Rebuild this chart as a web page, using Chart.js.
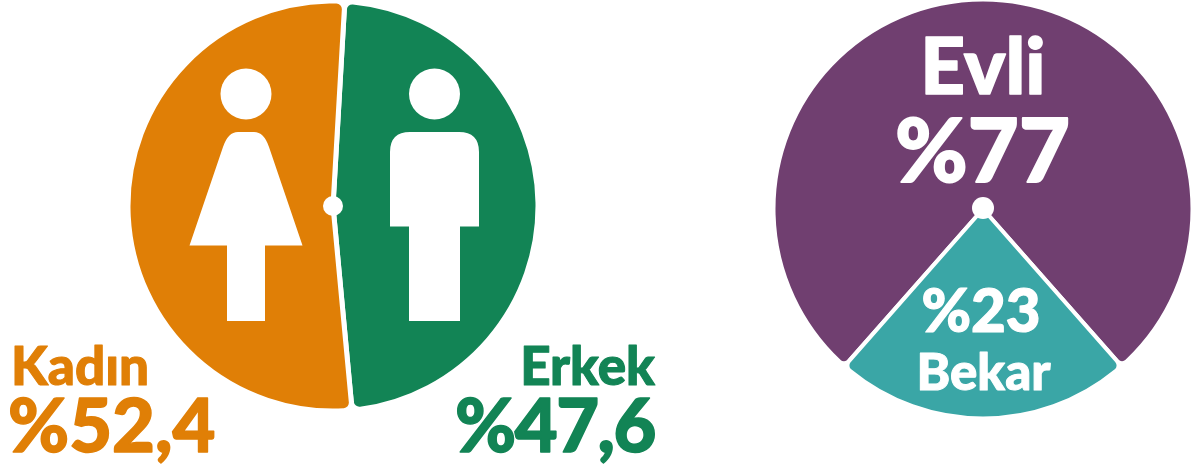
<!DOCTYPE html>
<html>
<head>
<meta charset="utf-8">
<title>Cinsiyet ve medeni durum</title>
<script src="https://cdn.jsdelivr.net/npm/chart.js@4/dist/chart.umd.min.js"></script>
<style>
    html, body { margin: 0; padding: 0; background: #fff; overflow: hidden; }
    #page { position: relative; width: 1192px; height: 466px; }
    canvas { position: absolute; top: 0; }
    #genderChart { left: 0; }
    #maritalChart { left: 700px; }
</style>
</head>
<body>
<div id="page">
    <canvas id="genderChart" width="680" height="466"></canvas>
    <canvas id="maritalChart" width="492" height="466"></canvas>
</div>
<script>
var genderLabels = ['Erkek', 'Kadın'];
var genderValues = [47.6, 52.4];
var genderColors = ['#128455', '#E07F06'];

var maritalLabels = ['Evli', 'Bekar'];
var maritalValues = [77, 23];
var maritalColors = ['#703F70', '#3AA6A6'];

var FONT = 'Lato, "Open Sans", sans-serif';

function percentText(value) {
    return '%' + String(value).replace('.', ',');
}

function writeText(ctx, text, x, y, size, color, align, spacing) {
    ctx.font = '900 ' + size + 'px ' + FONT;
    ctx.fillStyle = color;
    ctx.strokeStyle = color;
    ctx.lineWidth = size * 0.02;
    ctx.lineJoin = 'round';
    ctx.textAlign = align;
    ctx.textBaseline = 'alphabetic';
    ctx.letterSpacing = (spacing || 0) + 'px';
    ctx.fillText(text, x, y);
    ctx.strokeText(text, x, y);
}

// white dot where the slices meet
function centerDot(ctx, x, y, r) {
    ctx.fillStyle = '#fff';
    ctx.beginPath();
    ctx.arc(x, y, r, 0, Math.PI * 2);
    ctx.fill();
}

var genderDecor = {
    id: 'genderDecor',
    afterDraw: function (chart) {
        var ctx = chart.ctx;
        var arc = chart.getDatasetMeta(0).data[0];
        var cx = arc.x, cy = arc.y;
        ctx.save();
        centerDot(ctx, cx, cy, 10);

        // woman
        ctx.fillStyle = '#fff';
        ctx.beginPath();
        ctx.arc(cx - 87, cy - 112, 25.5, 0, Math.PI * 2);
        ctx.fill();
        ctx.beginPath();
        ctx.moveTo(cx - 143.5, cy + 39.5);
        ctx.lineTo(cx - 110, cy - 59);
        ctx.quadraticCurveTo(cx - 105, cy - 74, cx - 95, cy - 74);
        ctx.lineTo(cx - 79, cy - 74);
        ctx.quadraticCurveTo(cx - 69, cy - 74, cx - 64, cy - 59);
        ctx.lineTo(cx - 30.5, cy + 39.5);
        ctx.lineTo(cx - 68, cy + 39.5);
        ctx.lineTo(cx - 68, cy + 115);
        ctx.lineTo(cx - 106, cy + 115);
        ctx.lineTo(cx - 106, cy + 39.5);
        ctx.closePath();
        ctx.fill();

        // man
        ctx.beginPath();
        ctx.arc(cx + 101.5, cy - 112, 25.5, 0, Math.PI * 2);
        ctx.fill();
        ctx.beginPath();
        ctx.moveTo(cx + 57, cy + 20.5);
        ctx.lineTo(cx + 57, cy - 54);
        ctx.quadraticCurveTo(cx + 57, cy - 74, cx + 77, cy - 74);
        ctx.lineTo(cx + 126, cy - 74);
        ctx.quadraticCurveTo(cx + 146, cy - 74, cx + 146, cy - 54);
        ctx.lineTo(cx + 146, cy + 20.5);
        ctx.lineTo(cx + 127, cy + 20.5);
        ctx.lineTo(cx + 127, cy + 115);
        ctx.lineTo(cx + 76, cy + 115);
        ctx.lineTo(cx + 76, cy + 20.5);
        ctx.closePath();
        ctx.fill();

        writeText(ctx, genderLabels[1], 11, 385, 53, genderColors[1], 'left');
        writeText(ctx, percentText(genderValues[1]), 8, 452, 74, genderColors[1], 'left');
        writeText(ctx, genderLabels[0], 655, 385, 53, genderColors[0], 'right');
        writeText(ctx, percentText(genderValues[0]), 655, 452, 74, genderColors[0], 'right', -1.5);
        ctx.restore();
    }
};

var maritalDecor = {
    id: 'maritalDecor',
    afterDraw: function (chart) {
        var ctx = chart.ctx;
        var arc = chart.getDatasetMeta(0).data[0];
        var cx = arc.x;
        ctx.save();
        centerDot(ctx, cx, arc.y - 1, 11);
        writeText(ctx, maritalLabels[0], cx, 94, 78, '#fff', 'center');
        writeText(ctx, percentText(maritalValues[0]), cx - 0.5, 182, 88, '#fff', 'center');
        writeText(ctx, percentText(maritalValues[1]), cx - 2, 332, 60, '#fff', 'center');
        writeText(ctx, maritalLabels[1], cx + 0.5, 390, 51, '#fff', 'center');
        ctx.restore();
    }
};

function pieOptions(rotation, radius, padding) {
    return {
        responsive: false,
        animation: false,
        rotation: rotation,
        radius: radius,
        layout: { padding: padding },
        plugins: { legend: { display: false }, tooltip: { enabled: false } }
    };
}

new Chart(document.getElementById('genderChart').getContext('2d'), {
    type: 'pie',
    data: {
        labels: genderLabels,
        datasets: [{
            data: genderValues,
            backgroundColor: genderColors,
            borderColor: '#fff',
            borderWidth: 5,
            borderRadius: 8
        }]
    },
    options: pieOptions(3.3, 205, { right: 14, bottom: 54 }),
    plugins: [genderDecor]
});

new Chart(document.getElementById('maritalChart').getContext('2d'), {
    type: 'pie',
    data: {
        labels: maritalLabels,
        datasets: [{
            data: maritalValues,
            backgroundColor: maritalColors,
            borderColor: '#fff',
            borderWidth: 4,
            borderRadius: 7
        }]
    },
    options: pieOptions(221.4, 209.5, { left: 74, bottom: 48 }),
    plugins: [maritalDecor]
});
</script>
</body>
</html>
